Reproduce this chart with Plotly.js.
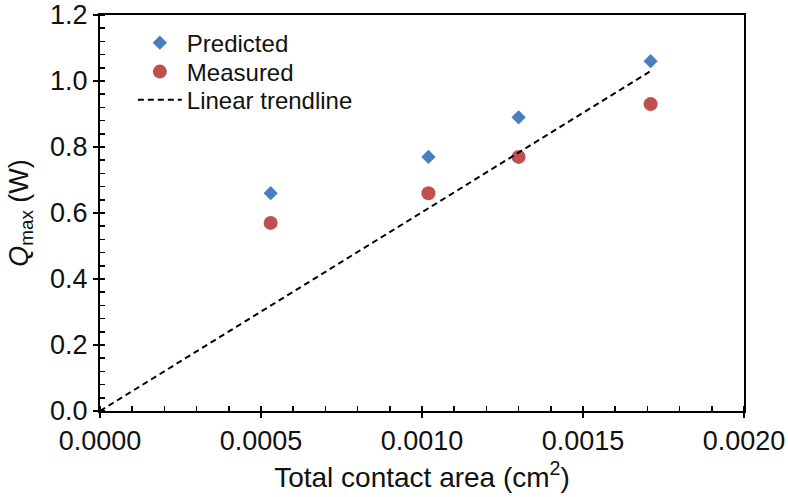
<!DOCTYPE html>
<html>
<head>
<meta charset="utf-8">
<script src="https://cdn.plot.ly/plotly-3.0.1.min.js"></script>
<style>
  html, body { margin: 0; padding: 0; background: #fff; }
  #chart { width: 788px; height: 497px; }
</style>
</head>
<body>
<div id="chart"></div>
<script>
// contact area (cm^2) for the four configurations
const area = [0.00053, 0.00102, 0.0013, 0.00171];
const predicted = [0.66, 0.77, 0.89, 1.06];
const measured = [0.57, 0.66, 0.77, 0.93];

// trendline through the origin
const trendX = [0, 0.00171];
const trendY = [0, 1.03];

const xTicks = [0, 0.0005, 0.001, 0.0015, 0.002];
const xTickText = ["0.0000", "0.0005", "0.0010", "0.0015", "0.0020"];
const yTicks = [0, 0.2, 0.4, 0.6, 0.8, 1.0, 1.2];
const yTickText = ["0.0", "0.2", "0.4", "0.6", "0.8", "1.0", "1.2"];

const ink = "#111";
const fontFam = "Liberation Sans, Arial, sans-serif";

const traces = [
    {
        x: area, y: predicted, type: "scatter", mode: "markers",
        name: "Predicted", legend: "legend",
        marker: {symbol: "diamond", size: 11, color: "#4a7ebf"}
    },
    {
        x: area, y: measured, type: "scatter", mode: "markers",
        name: "Measured", legend: "legend2",
        marker: {symbol: "circle", size: 14, color: "#c0504d"}
    },
    {
        x: trendX, y: trendY, type: "scatter", mode: "lines",
        name: "Linear trendline", legend: "legend3",
        line: {color: "#000", width: 2, dash: "6px,4px"}
    },
    // invisible trace on the overlay axes so they get drawn
    {
        x: [0], y: [0], xaxis: "x2", yaxis: "y2", mode: "markers",
        marker: {opacity: 0}, showlegend: false, hoverinfo: "skip"
    }
];

const baseX = {
    range: [0, 0.002], tickvals: xTicks, ticktext: xTickText,
    showgrid: false, zeroline: false, fixedrange: true
};
const baseY = {
    range: [0, 1.2], tickvals: yTicks, ticktext: yTickText,
    showgrid: false, zeroline: false, fixedrange: true
};

function legendAt(y) {
    return {
        x: 0.051, y: y, xanchor: "left", yanchor: "middle",
        bgcolor: "rgba(0,0,0,0)", borderwidth: 0,
        font: {size: 24, color: ink}, itemwidth: 44
    };
}

const layout = {
    width: 788, height: 497,
    margin: {l: 100, r: 44, t: 15, b: 86},
    paper_bgcolor: "#fff", plot_bgcolor: "#fff",
    font: {family: fontFam, size: 27, color: ink},
    showlegend: true,
    legend: legendAt(0.929),
    legend2: legendAt(0.856),
    legend3: legendAt(0.785),
    xaxis: Object.assign({}, baseX, {
        showline: true, linecolor: "#000", linewidth: 2, mirror: true,
        ticks: "outside", ticklen: 5, tickwidth: 2, tickcolor: "#000",
        minor: {dtick: 0.0001, ticks: "inside", ticklen: 5, tickwidth: 1.5, tickcolor: "#000"},
        tickfont: {size: 27},
        title: {text: "Total contact area (cm<sup>2</sup>)", font: {size: 28}, standoff: 12}
    }),
    yaxis: Object.assign({}, baseY, {
        showline: true, linecolor: "#000", linewidth: 2, mirror: true,
        ticks: "outside", ticklen: 5, tickwidth: 2, tickcolor: "#000",
        minor: {dtick: 0.04, ticks: "inside", ticklen: 5, tickwidth: 1.5, tickcolor: "#000"},
        tickfont: {size: 27},
        title: {text: "<i>Q</i><sub>max</sub> (W)", font: {size: 27}, standoff: 14}
    }),
    // overlay axes: inward half of the major ticks
    xaxis2: Object.assign({}, baseX, {
        overlaying: "x", anchor: "y2", side: "bottom",
        showline: false, ticks: "inside", ticklen: 5, tickwidth: 2, tickcolor: "#000",
        showticklabels: false
    }),
    yaxis2: Object.assign({}, baseY, {
        overlaying: "y", anchor: "x2", side: "left",
        showline: false, ticks: "inside", ticklen: 5, tickwidth: 2, tickcolor: "#000",
        showticklabels: false
    })
};

Plotly.newPlot("chart", traces, layout, {displayModeBar: false, staticPlot: true});
</script>
</body>
</html>
